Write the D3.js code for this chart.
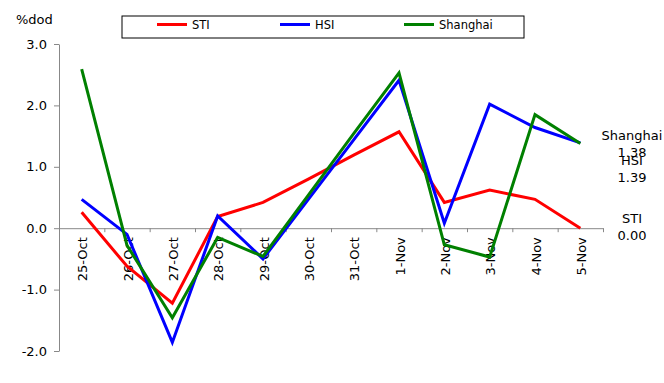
<!DOCTYPE html>
<html>
<head>
<meta charset="utf-8">
<script src="https://cdn.jsdelivr.net/npm/d3@7"></script>
<style>
  body { margin: 0; background: #fff; }
  svg { display: block; font-family: "DejaVu Sans", Verdana, sans-serif; }
</style>
</head>
<body>
<div id="chart"></div>
<script>
// data
const dates = ["25-Oct", "26-Oct", "27-Oct", "28-Oct", "29-Oct", "30-Oct",
               "31-Oct", "1-Nov", "2-Nov", "3-Nov", "4-Nov", "5-Nov"]
const stiValues = [0.26, -0.62, -1.22, 0.19, 0.42, 0.80, 1.19, 1.57, 0.42, 0.62, 0.47, 0.00]
const hsiValues = [0.47, -0.10, -1.86, 0.20, -0.50, 0.47, 1.44, 2.41, 0.08, 2.02, 1.64, 1.39]
const shanghaiValues = [2.59, -0.28, -1.46, -0.15, -0.46, 0.54, 1.54, 2.53, -0.27, -0.47, 1.85, 1.38]
const yTicks = [3, 2, 1, 0, -1, -2]

const series = [
    { name: "STI", color: "#ff0000", values: stiValues },
    { name: "HSI", color: "#0000ff", values: hsiValues },
    { name: "Shanghai", color: "#008000", values: shanghaiValues }
]

// dimensions
const width = 664
const height = 383
const plot = { left: 59, right: 603, top: 44, bottom: 351 }

const svg = d3.select("#chart").append("svg")
    .attr("width", width)
    .attr("height", height)

// scales
const xScale = d3.scaleBand()
    .domain(dates)
    .range([plot.left, plot.right])
    .paddingInner(0)
    .paddingOuter(0)
const xCenter = d => xScale(d) + xScale.bandwidth() / 2

const edgeScale = d3.scaleLinear()
    .domain([0, dates.length])
    .range([plot.left, plot.right])

const yScale = d3.scaleLinear()
    .domain([-2, 3])
    .range([plot.bottom, plot.top])

const axisColor = "#888"

// y axis
const yAxis = svg.append("g")
    .attr("transform", `translate(${plot.left},0)`)
    .call(d3.axisLeft(yScale)
        .tickValues(yTicks)
        .tickFormat(d => d.toFixed(1))
        .tickSize(5)
        .tickSizeOuter(0)
        .tickPadding(7))
yAxis.select(".domain").attr("stroke", axisColor)
yAxis.selectAll(".tick line").attr("stroke", axisColor)
yAxis.selectAll(".tick text")
    .attr("fill", "#000")
    .style("font-size", "13px")
    .style("font-family", "DejaVu Sans, sans-serif")

svg.append("text")
    .attr("x", 16)
    .attr("y", 24)
    .style("font-size", "13px")
    .text("%dod")

// x axis on zero line, ticks between categories
const xAxis = svg.append("g")
    .attr("transform", `translate(0,${yScale(0)})`)
    .call(d3.axisBottom(edgeScale)
        .tickValues(d3.range(1, dates.length + 1))
        .tickFormat("")
        .tickSize(4)
        .tickSizeOuter(0))
xAxis.select(".domain").attr("stroke", axisColor)
xAxis.selectAll(".tick line").attr("stroke", axisColor)

svg.append("g")
    .selectAll("text")
    .data(dates)
    .join("text")
    .attr("transform", d => `translate(${xCenter(d) + 1},${yScale(0) + 9}) rotate(-90)`)
    .attr("text-anchor", "end")
    .attr("dy", "0.35em")
    .style("font-size", "13px")
    .text(d => d)

// lines
const lineGen = d3.line()
    .x((d, i) => xCenter(dates[i]))
    .y(d => yScale(d))

svg.append("g")
    .selectAll("path")
    .data(series)
    .join("path")
    .attr("d", d => lineGen(d.values))
    .attr("fill", "none")
    .attr("stroke", d => d.color)
    .attr("stroke-width", 3)
    .attr("stroke-linejoin", "miter")

// end labels
const endLabels = [
    { name: "Shanghai", value: shanghaiValues[11], y: 140 },
    { name: "HSI", value: hsiValues[11], y: 165 },
    { name: "STI", value: stiValues[11], y: 223 }
]
const endGroup = svg.append("g").style("font-size", "13px")
endLabels.forEach(l => {
    endGroup.append("text")
        .attr("x", 632)
        .attr("y", l.y)
        .attr("text-anchor", "middle")
        .text(l.name)
    endGroup.append("text")
        .attr("x", 632)
        .attr("y", l.y + 17)
        .attr("text-anchor", "middle")
        .text(l.value.toFixed(2))
})

// legend
const legend = svg.append("g")
legend.append("rect")
    .attr("x", 122)
    .attr("y", 16)
    .attr("width", 402)
    .attr("height", 22)
    .attr("fill", "#fff")
    .attr("stroke", "#000")
    .attr("stroke-width", 1)

const legendX = [157, 280, 404]
series.forEach((s, i) => {
    legend.append("line")
        .attr("x1", legendX[i])
        .attr("x2", legendX[i] + 30)
        .attr("y1", 24.5)
        .attr("y2", 24.5)
        .attr("stroke", s.color)
        .attr("stroke-width", 3)
    legend.append("text")
        .attr("x", legendX[i] + 35)
        .attr("y", 29)
        .style("font-size", "11.5px")
        .text(s.name)
})
</script>
</body>
</html>
